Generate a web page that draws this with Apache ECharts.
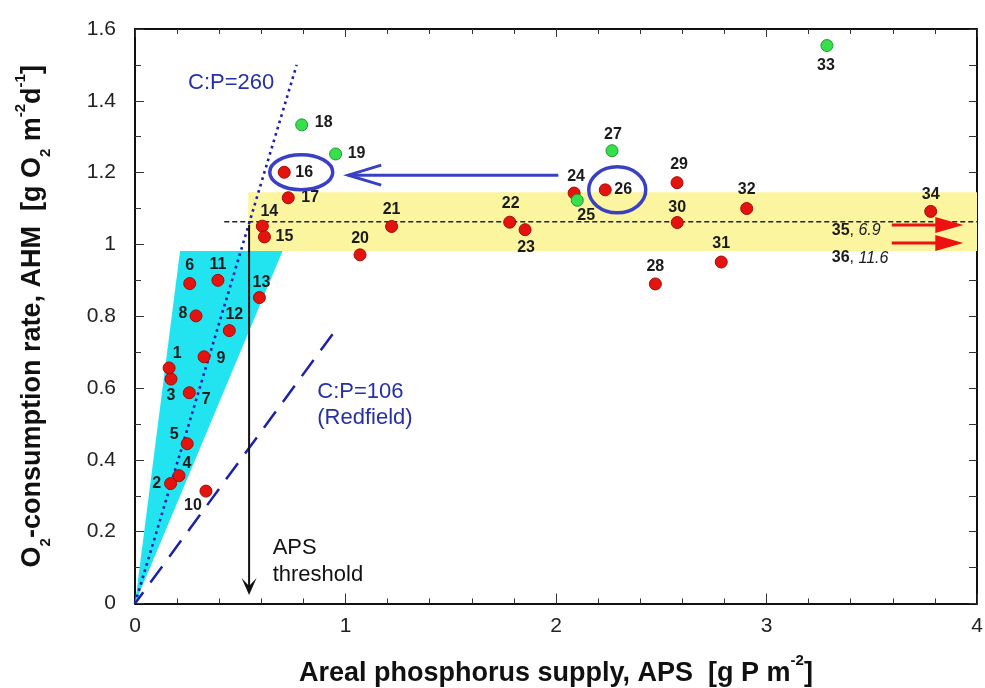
<!DOCTYPE html>
<html>
<head>
<meta charset="utf-8">
<script src="https://cdn.jsdelivr.net/npm/echarts@6/dist/echarts.min.js"></script>
<style>
  html, body { margin: 0; padding: 0; background: #ffffff; }
  #chart { width: 985px; height: 688px; }
</style>
</head>
<body>
<div id="chart"></div>
<script>
// ---- data: lake number, areal phosphorus supply (g P m-2), O2 consumption (g O2 m-2 d-1)
const pointIds = [1, 2, 3, 4, 5, 6, 7, 8, 9, 10, 11, 12, 13, 14, 15, 16, 17,
  18, 19, 20, 21, 22, 23, 24, 25, 26, 27, 28, 29, 30, 31, 32, 33, 34];
const aps = [0.162, 0.169, 0.171, 0.209, 0.248, 0.260, 0.258, 0.290, 0.328, 0.337,
  0.394, 0.448, 0.591, 0.605, 0.615, 0.709, 0.728, 0.792, 0.953, 1.069, 1.219,
  1.780, 1.853, 2.086, 2.101, 2.234, 2.266, 2.472, 2.575, 2.576, 2.785, 2.906,
  3.287, 3.780];
const ahm = [0.656, 0.334, 0.625, 0.356, 0.445, 0.891, 0.587, 0.801, 0.687, 0.313,
  0.900, 0.760, 0.852, 1.051, 1.021, 1.201, 1.130, 1.333, 1.252, 0.971, 1.050,
  1.062, 1.041, 1.143, 1.123, 1.152, 1.261, 0.890, 1.172, 1.061, 0.951, 1.100,
  1.554, 1.092];
const greenIds = [18, 19, 25, 27, 33];

// lakes whose APS lies beyond the axis range
const offScaleIds = [35, 36];
const offScaleAps = [6.9, 11.6];
const offScaleAhm = [1.054, 1.004];

// axis ticks
const xTickLabels = ['0', '1', '2', '3', '4'];
const yTickLabels = ['0', '0.2', '0.4', '0.6', '0.8', '1', '1.2', '1.4', '1.6'];

// reference lines and regions (data units)
const cp260Line = [[0, 0], [0.768, 1.5]];
const cp106Line = [[0, 0], [0.971, 0.776]];
const ahmPlateau = 1.063;
const plateauStartAps = 0.424;
const apsThreshold = 0.542;
const apsArrowEnd = 0.024;
const ahmBand = [0.982, 1.145];
const bandStartAps = 0.538;
const cyanWedge = [[0, 0], [0.214, 0.982], [0.701, 0.982]];
const shiftArrow = [[2.011, 1.193], [1.013, 1.193]];
const offScaleArrowAps = [3.595, 3.935];

// ---- styling
const FONT = "'Liberation Sans', Arial, Helvetica, sans-serif";
const BLUE_TEXT = '#2530a8';
const RING_BLUE = '#3a40c4';

// label placement around each point, in pixels from its centre
const labelShift = {
  1: [8, -14], 2: [-14, 0], 3: [0, 17], 4: [8, -12], 5: [-13, -9], 6: [0, -18],
  7: [17, 7], 8: [-13, -2], 9: [17, 2], 10: [-13, 14], 11: [0, -16], 12: [5, -16],
  13: [2, -15], 14: [7, -15], 15: [20, 0], 16: [20, 0], 17: [22, 0], 18: [22, -2],
  19: [21, 0], 20: [0, -16], 21: [0, -17], 22: [1, -19], 23: [1, 18], 24: [2, -16],
  25: [9, 15], 26: [18, 0], 27: [1, -16], 28: [0, -17], 29: [2, -18], 30: [0, -15],
  31: [0, -18], 32: [0, -19], 33: [-1, 20], 34: [0, -17]
};
// rings drawn around highlighted lakes: [lake, dx, rx, ry] in pixels
const rings = [[16, 17, 31.5, 17.5], [26, 12, 28.5, 23]];

const X_MAX = 4, Y_MAX = 1.6;

const redData = [], greenData = [];
pointIds.forEach((id, i) => {
  const item = { value: [aps[i], ahm[i]], name: String(id), label: { offset: labelShift[id] } };
  (greenIds.indexOf(id) >= 0 ? greenData : redData).push(item);
});

function renderBackground(params, api) {
  const c = p => api.coord(p);
  const children = [];
  const b0 = c([bandStartAps, ahmBand[1]]);
  const b1 = c([X_MAX, ahmBand[0]]);
  children.push({ type: 'rect', shape: { x: b0[0], y: b0[1], width: b1[0] - b0[0], height: b1[1] - b0[1] },
    style: { fill: '#fcf5a0' } });
  children.push({ type: 'polygon', shape: { points: cyanWedge.map(c) }, style: { fill: '#22e4f0' } });
  const h0 = c([plateauStartAps, ahmPlateau]), h1 = c([X_MAX, ahmPlateau]);
  children.push({ type: 'line', shape: { x1: h0[0], y1: h0[1], x2: h1[0], y2: h1[1] },
    style: { stroke: '#222', lineWidth: 1.6, lineDash: [5, 3] } });
  const d0 = c(cp260Line[0]), d1 = c(cp260Line[1]);
  children.push({ type: 'line', shape: { x1: d0[0], y1: d0[1], x2: d1[0], y2: d1[1] },
    style: { stroke: '#1c1cb0', lineWidth: 2.6, lineDash: [2.6, 4] } });
  const r0 = c(cp106Line[0]), r1 = c(cp106Line[1]);
  children.push({ type: 'line', shape: { x1: r0[0], y1: r0[1], x2: r1[0], y2: r1[1] },
    style: { stroke: '#1c22a8', lineWidth: 2.5, lineDash: [20, 12], lineDashOffset: 6 } });
  // APS threshold arrow
  const v0 = c([apsThreshold, ahmPlateau - 0.008]), v1 = c([apsThreshold, apsArrowEnd]);
  children.push({ type: 'line', shape: { x1: v0[0], y1: v0[1], x2: v1[0], y2: v1[1] - 4 },
    style: { stroke: '#111', lineWidth: 2 } });
  children.push({ type: 'polygon', shape: { points: [[v1[0], v1[1]], [v1[0] - 7.5, v1[1] - 17],
    [v1[0], v1[1] - 9], [v1[0] + 7.5, v1[1] - 17]] }, style: { fill: '#111' } });
  return { type: 'group', children };
}

function renderForeground(params, api) {
  const c = p => api.coord(p);
  const children = [];
  rings.forEach(([id, dx, rx, ry]) => {
    const i = pointIds.indexOf(id);
    const p = c([aps[i], ahm[i]]);
    children.push({ type: 'ellipse', shape: { cx: p[0] + dx, cy: p[1], rx, ry },
      style: { fill: null, stroke: RING_BLUE, lineWidth: 3.5 } });
  });
  // arrow pointing from lake 26 to lake 16
  const a0 = c(shiftArrow[0]), a1 = c(shiftArrow[1]);
  children.push({ type: 'line', shape: { x1: a0[0], y1: a0[1], x2: a1[0], y2: a1[1] },
    style: { stroke: RING_BLUE, lineWidth: 3 } });
  children.push({ type: 'polyline', shape: { points: [[a1[0] + 33, a1[1] - 10], [a1[0], a1[1]], [a1[0] + 33, a1[1] + 10]] },
    style: { stroke: RING_BLUE, lineWidth: 3, fill: null } });
  // off-scale lakes
  offScaleIds.forEach((id, i) => {
    const s = c([offScaleArrowAps[0], offScaleAhm[i]]), e = c([offScaleArrowAps[1], offScaleAhm[i]]);
    children.push({ type: 'line', shape: { x1: s[0], y1: s[1], x2: e[0] - 20, y2: e[1] },
      style: { stroke: '#ee1111', lineWidth: 3 } });
    children.push({ type: 'polygon', shape: { points: [[e[0], e[1]], [e[0] - 28, e[1] - 8], [e[0] - 28, e[1] + 8]] },
      style: { fill: '#ee1111' } });
    const t = c([3.31, offScaleAhm[i] - 0.016 - i * 0.026]);
    children.push({ type: 'text', x: t[0], y: t[1], style: {
      text: '{b|' + id + '}{n|, }{i|' + offScaleAps[i] + '}', align: 'left', verticalAlign: 'middle',
      rich: {
        b: { fontSize: 16, fontWeight: 'bold', fontFamily: FONT, fill: '#1b1b1b' },
        n: { fontSize: 16, fontFamily: FONT, fill: '#1b1b1b' },
        i: { fontSize: 16, fontStyle: 'italic', fontFamily: FONT, fill: '#1b1b1b' }
      } } });
  });
  const txt = (pos, text, color) => {
    const p = c(pos);
    children.push({ type: 'text', x: p[0], y: p[1], style: { text, fill: color, fontSize: 22,
      fontFamily: FONT, align: 'left', verticalAlign: 'middle' } });
  };
  txt([0.252, 1.451], 'C:P=260', BLUE_TEXT);
  txt([0.866, 0.590], 'C:P=106', BLUE_TEXT);
  txt([0.866, 0.516], '(Redfield)', BLUE_TEXT);
  txt([0.654, 0.155], 'APS', '#111');
  txt([0.654, 0.079], 'threshold', '#111');
  return { type: 'group', children };
}

const nameRich = {
  b: { fontSize: 27, fontWeight: 'bold', fontFamily: FONT, color: '#111', lineHeight: 40 },
  sub: { fontSize: 15, fontWeight: 'bold', fontFamily: FONT, color: '#111', lineHeight: 12, verticalAlign: 'bottom' },
  sup: { fontSize: 15, fontWeight: 'bold', fontFamily: FONT, color: '#111', lineHeight: 12, verticalAlign: 'top' }
};

function valueAxis(base) {
  return Object.assign({
    type: 'value',
    axisLine: { show: true, onZero: false, lineStyle: { color: '#111', width: 2 } },
    splitLine: { show: false },
    minorSplitLine: { show: false }
  }, base);
}

const chart = echarts.init(document.getElementById('chart'), null, { renderer: 'canvas' });
chart.setOption({
  animation: false,
  backgroundColor: '#ffffff',
  grid: { left: 135, right: 8, top: 29, bottom: 84.5, containLabel: false, outerBoundsMode: 'none' },
  xAxis: [
    valueAxis({
      position: 'bottom', min: 0, max: X_MAX, interval: 1,
      axisTick: { show: true, inside: true, length: 10, lineStyle: { color: '#333', width: 1 } },
      minorTick: { show: true, splitNumber: 5, length: 5, lineStyle: { color: '#333', width: 1 } },
      axisLabel: { fontSize: 21, color: '#222', fontFamily: FONT, margin: 12,
        formatter: v => xTickLabels[Math.round(v)] },
      name: '{b|Areal phosphorus supply, APS  [g P m}{sup|-2}{b|]}',
      nameLocation: 'middle', nameGap: 50, nameMoveOverlap: false,
      nameTextStyle: { rich: nameRich }
    }),
    valueAxis({
      position: 'top', min: 0, max: X_MAX, interval: 1,
      axisTick: { show: true, inside: true, length: 8, lineStyle: { color: '#333', width: 1 } },
      minorTick: { show: true, splitNumber: 5, length: 5, lineStyle: { color: '#333', width: 1 } },
      axisLabel: { show: false }
    })
  ],
  yAxis: [
    valueAxis({
      position: 'left', min: 0, max: Y_MAX, interval: 0.2,
      axisTick: { show: true, inside: true, length: 9, lineStyle: { color: '#333', width: 1 } },
      minorTick: { show: true, splitNumber: 2, length: 6, lineStyle: { color: '#333', width: 1 } },
      axisLabel: { fontSize: 21, color: '#222', fontFamily: FONT, margin: 19,
        formatter: v => yTickLabels[Math.round(v / 0.2)] },
      name: '{b|O}{sub|2}{b|-consumption rate, AHM  [g O}{sub|2}{b| m}{sup|-2}{b|d}{sup|-1}{b|]}',
      nameLocation: 'middle', nameRotate: 90, nameGap: 82, nameMoveOverlap: false,
      nameTextStyle: { rich: nameRich }
    }),
    valueAxis({
      position: 'right', min: 0, max: Y_MAX, interval: 0.2,
      axisTick: { show: true, inside: true, length: 8, lineStyle: { color: '#333', width: 1 } },
      minorTick: { show: true, splitNumber: 2, length: 8, lineStyle: { color: '#333', width: 1 } },
      axisLabel: { show: false }
    })
  ],
  series: [
    { type: 'custom', coordinateSystem: 'cartesian2d', renderItem: renderBackground, data: [[0, 0]],
      clip: false, silent: true, z: 1 },
    { type: 'scatter', data: redData, symbolSize: 12, z: 3, silent: true,
      itemStyle: { color: '#e3140f', borderColor: '#a80a05', borderWidth: 1, opacity: 1 },
      label: { show: true, position: 'inside', formatter: '{b}', fontSize: 16, fontWeight: 'bold',
        fontFamily: FONT, color: '#1b1b1b', textBorderWidth: 0 } },
    { type: 'scatter', data: greenData, symbolSize: 12, z: 4, silent: true,
      itemStyle: { color: '#36e04c', borderColor: '#1f9a2e', borderWidth: 1, opacity: 1 },
      label: { show: true, position: 'inside', formatter: '{b}', fontSize: 16, fontWeight: 'bold',
        fontFamily: FONT, color: '#1b1b1b', textBorderWidth: 0 } },
    { type: 'custom', coordinateSystem: 'cartesian2d', renderItem: renderForeground, data: [[0, 0]],
      clip: false, silent: true, z: 5 }
  ]
});
</script>
</body>
</html>
